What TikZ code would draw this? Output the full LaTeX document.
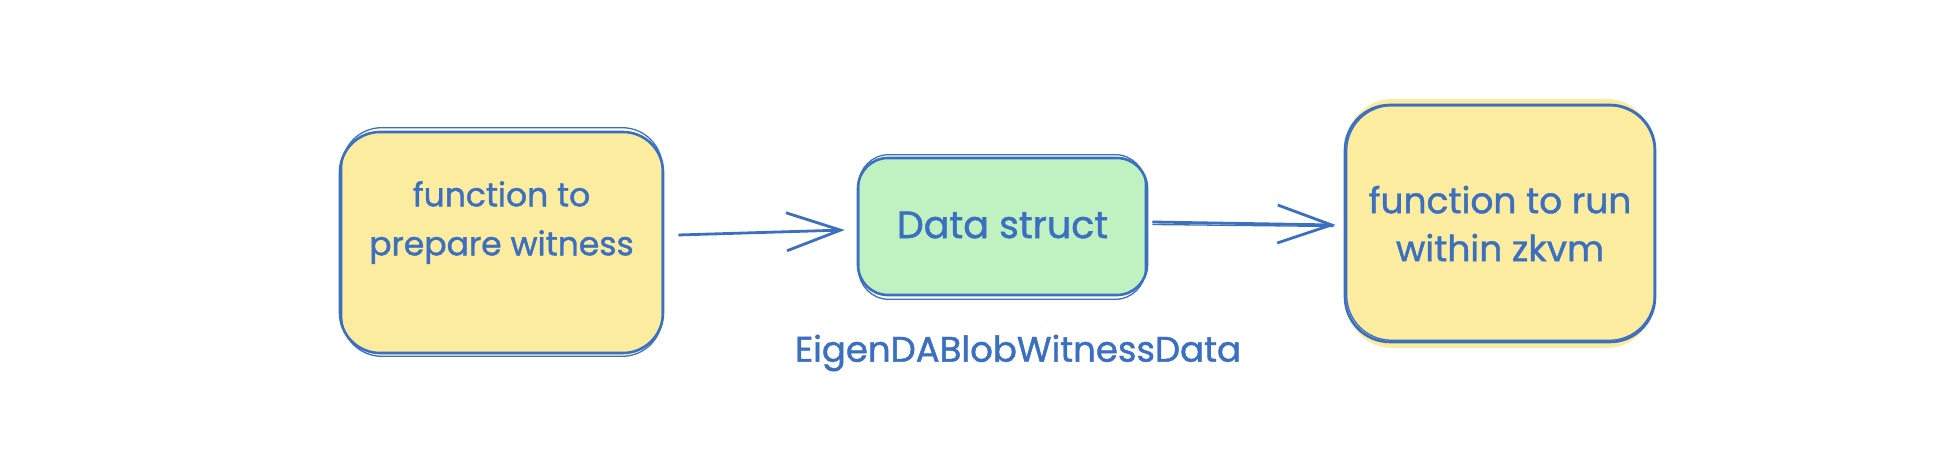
\documentclass[tikz,border=0pt]{standalone}
\usepackage{fontspec}
\setmainfont{Poppins}[FakeBold=1.2]
\usetikzlibrary{arrows.meta}
\definecolor{ink}{HTML}{3B6FC0}
\definecolor{yfill}{HTML}{FCEC9F}
\definecolor{gfill}{HTML}{C0F1C1}
\begin{document}
\begin{tikzpicture}[x=1pt,y=1pt,
  box/.style={draw=ink, line width=2.6pt, inner sep=0pt},
  sketch/.style={draw=ink, line width=1.3pt},
  txt/.style={text=ink, align=center, inner sep=0pt},
  lbl/.style={text=ink, inner sep=0pt, font=\fontsize{35.5}{38}\selectfont},
  arr/.style={draw=ink, line width=2.8pt, -{Straight Barb[length=54pt,width=38pt]}}]
\useasboundingbox (0,0) rectangle (1936,476);
% left box
\fill[yfill, rounded corners=40pt] (343,121) rectangle (661,343);
\node[box, fill=yfill, rounded corners=40pt, minimum width=323pt, minimum height=221pt] (a) at (501.5,233.5) {};
\draw[sketch, rounded corners=40pt] ([shift={(3,-2)}]a.south west) rectangle ([shift={(-2,3)}]a.north east);
\node[txt, font=\fontsize{33}{49}\selectfont] (at) at (501.5,253.5) {function to\\prepare witness};
% green box
\node[box, fill=gfill, rounded corners=30pt, minimum width=289pt, minimum height=137pt] (b) at (1002.5,249.5) {};
\draw[sketch, rounded corners=30pt] ([shift={(2,-3)}]b.south west) rectangle ([shift={(-3,2)}]b.north east);
\node[txt, font=\fontsize{38}{49}\selectfont] (bt) at (1002.5,251) {Data struct};
% right box
\fill[yfill, rounded corners=45pt] (1347,128) rectangle (1652,377);
\node[box, fill=yfill, rounded corners=45pt, minimum width=310pt, minimum height=237pt] (c) at (1500,252.5) {};
\draw[sketch, rounded corners=45pt] ([shift={(3,3)}]c.south west) rectangle ([shift={(-2,-2)}]c.north east);
\node[txt, font=\fontsize{36}{48}\selectfont] (ct) at (1500,252.5) {function to run\\within zkvm};
% label
\node[lbl] (l) at (1018,123) {EigenDABlobWitnessData};
% arrows
\draw[arr] ([shift={(14,7.5)}]a.east) -- ([shift={(-12,-3.5)}]b.west);
\draw[arr] ([shift={(4,4.5)}]b.east) -- ([shift={(-8,-1.5)}]c.west);
\draw[sketch] ([shift={(4,2)}]b.east) -- ([shift={(-10,-3)}]c.west);
\end{tikzpicture}
\end{document}
